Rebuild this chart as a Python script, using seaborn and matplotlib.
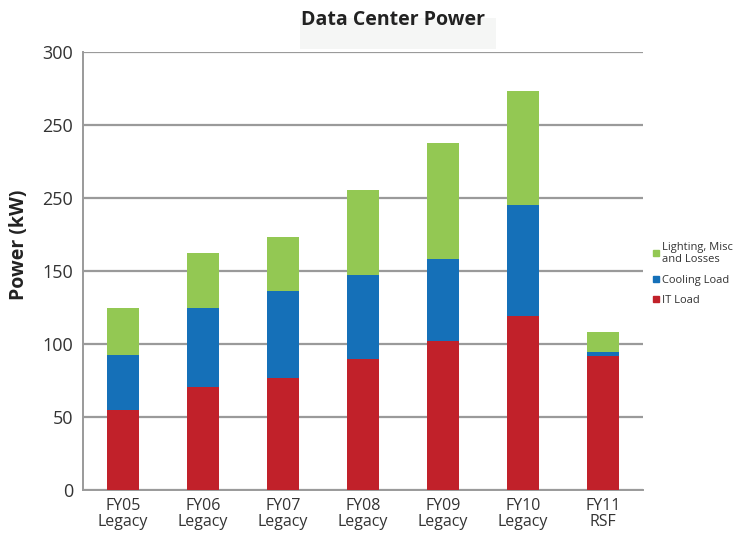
import matplotlib
matplotlib.use("Agg")
import matplotlib.pyplot as plt
import seaborn as sns
import pandas as pd
import numpy as np
from matplotlib.patches import Rectangle
from matplotlib.lines import Line2D

categories = ["FY05\nLegacy", "FY06\nLegacy", "FY07\nLegacy", "FY08\nLegacy",
              "FY09\nLegacy", "FY10\nLegacy", "FY11\nRSF"]
it_load = [55, 70.5, 77, 89.5, 102, 119.5, 92]
cooling_load = [37.5, 54, 59.5, 58, 56.5, 76, 2.5]
lighting_misc = [32.5, 38, 36.5, 58, 79, 77.5, 14]
ytick_values = [0, 50, 100, 150, 200, 250, 300]
ytick_labels = ["0", "50", "100", "150", "250", "250", "300"]
series_names = ["Lighting, Misc\nand Losses", "Cooling Load", "IT Load"]
colors = {"IT Load": "#C1212A", "Cooling Load": "#1570B8", "Lighting": "#93C853"}

sns.set_theme(style="white")
plt.rcParams["font.family"] = ["Open Sans", "DejaVu Sans"]

df = pd.DataFrame({"cat": categories, "it": it_load, "cool": cooling_load, "light": lighting_misc})
df["top_cool"] = df["it"] + df["cool"]
df["top_light"] = df["top_cool"] + df["light"]

fig = plt.figure(figsize=(7.36, 5.33), dpi=100)
ax = fig.add_axes([83 / 736, 1 - 490 / 533, 560 / 736, 438 / 533])

for ycol, c in [("top_light", colors["Lighting"]), ("top_cool", colors["Cooling Load"]), ("it", colors["IT Load"])]:
    sns.barplot(data=df, x="cat", y=ycol, color=c, width=0.4, ax=ax,
                saturation=1, linewidth=0, zorder=3)

ax.set_xlim(-0.5, 6.5)
ax.set_ylim(0, 300)
ax.set_yticks(ytick_values)
ax.set_yticklabels(ytick_labels)
ax.yaxis.grid(True, color="#9a9a9a", linewidth=1.6, zorder=0)
ax.set_axisbelow(True)
ax.set_xlabel("")
ax.set_ylabel("Power (kW)", fontsize=14, fontweight="bold", color="#222222")
ax.yaxis.label.set_va("center")
ax.yaxis.set_label_coords(-0.114, 0.56)

ax.set_xticks(range(len(categories)))
ax.set_xticklabels(categories, fontsize=11.5, color="#333333", linespacing=0.95)
ax.set_xticks(np.arange(-0.5, 7, 1), minor=True)
ax.tick_params(axis="x", which="major", length=0, pad=6)
ax.tick_params(axis="x", which="minor", length=5, color="#9a9a9a", width=1.2, direction="out")
ax.tick_params(axis="y", which="major", length=6, color="#9a9a9a", width=1.2, direction="inout",
               labelsize=13, labelcolor="#333333", pad=4)

for s in ["top", "right"]:
    ax.spines[s].set_visible(False)
for s in ["left", "bottom"]:
    ax.spines[s].set_color("#9a9a9a")
    ax.spines[s].set_linewidth(1.4)

# title with faint background band
fig.patches.append(Rectangle((300 / 736, 1 - 49 / 533), 196 / 736, 31 / 533,
                             transform=fig.transFigure, facecolor="#f5f6f5", edgecolor="none", zorder=0))
fig.text(393 / 736, 1 - 20 / 533, "Data Center Power", ha="center", va="center",
         fontsize=14, fontweight="bold", color="#222222")

handles = [Line2D([], [], marker="s", linestyle="", markersize=5, color=colors["Lighting"]),
           Line2D([], [], marker="s", linestyle="", markersize=5, color=colors["Cooling Load"]),
           Line2D([], [], marker="s", linestyle="", markersize=5, color=colors["IT Load"])]
fig.legend(handles, series_names, loc="upper left", bbox_to_anchor=(648 / 736, 1 - 236 / 533),
           frameon=False, fontsize=8, handlelength=0.5, handletextpad=0.3,
           labelspacing=0.85, borderpad=0, labelcolor="#333333")

fig.savefig("out.png", dpi=100)
